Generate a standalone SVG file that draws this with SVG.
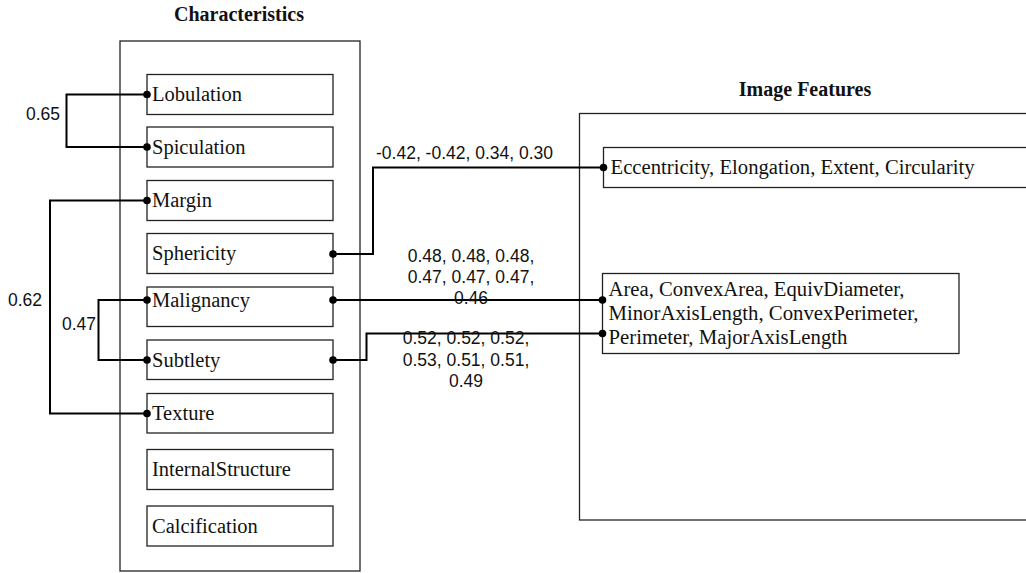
<svg xmlns="http://www.w3.org/2000/svg" width="1026" height="573" viewBox="0 0 1026 573">
<style>
.title{font-family:"Liberation Serif","Times New Roman",serif;font-weight:bold;font-size:20px;fill:#111}
.box{fill:#fff;stroke:#222;stroke-width:1.3}
.outer{fill:none;stroke:#222;stroke-width:1.3}
.lbl{font-family:"Liberation Serif","Times New Roman",serif;font-size:20.5px;fill:#111}
.num{font-family:"Liberation Sans",Arial,sans-serif;font-size:17.5px;fill:#111}
.num-m{font-family:"Liberation Sans",Arial,sans-serif;font-size:17.5px;fill:#111;text-anchor:middle}
.conn{fill:none;stroke:#000;stroke-width:2}
.dot{fill:#000}
</style>
<rect width="1026" height="573" fill="#fff"/>
<g id="characteristics">
<text class="title" x="239" y="21" text-anchor="middle">Characteristics</text>
<rect class="outer" x="120" y="41" width="240" height="530"/>
</g>
<g id="image-features">
<text class="title" x="805" y="96" text-anchor="middle">Image Features</text>
<rect class="outer" x="579.5" y="113.5" width="460" height="406.5"/>
</g>
<g id="lobulation"><rect class="box" x="147" y="74.5" width="186" height="40"/><text class="lbl" x="152" y="101">Lobulation</text></g>
<g id="spiculation"><rect class="box" x="147" y="127" width="186" height="40"/><text class="lbl" x="152" y="153.5">Spiculation</text></g>
<g id="margin"><rect class="box" x="147" y="180.5" width="186" height="40"/><text class="lbl" x="152" y="207">Margin</text></g>
<g id="sphericity"><rect class="box" x="147" y="233.5" width="186" height="40"/><text class="lbl" x="152" y="260">Sphericity</text></g>
<g id="malignancy"><rect class="box" x="147" y="287" width="186" height="39.5"/><text class="lbl" x="152" y="306.5">Malignancy</text></g>
<g id="subtlety"><rect class="box" x="147" y="340" width="186" height="39.5"/><text class="lbl" x="152" y="366.5">Subtlety</text></g>
<g id="texture"><rect class="box" x="147" y="393.5" width="186" height="39.5"/><text class="lbl" x="152" y="420">Texture</text></g>
<g id="internalstructure"><rect class="box" x="147" y="449.5" width="186" height="40"/><text class="lbl" x="152" y="476">InternalStructure</text></g>
<g id="calcification"><rect class="box" x="147" y="506" width="186" height="40"/><text class="lbl" x="152" y="532.5">Calcification</text></g>
<g id="shape-features"><rect class="box" x="603.5" y="147.5" width="425" height="40"/><text class="lbl" x="610.5" y="174" textLength="364" lengthAdjust="spacingAndGlyphs">Eccentricity, Elongation, Extent, Circularity</text></g>
<g id="size-features"><rect class="box" x="602.5" y="273.5" width="356.5" height="80"/>
<text class="lbl" x="608.5" y="296" textLength="296" lengthAdjust="spacingAndGlyphs">Area, ConvexArea, EquivDiameter,</text>
<text class="lbl" x="608.5" y="320" textLength="310" lengthAdjust="spacingAndGlyphs">MinorAxisLength, ConvexPerimeter,</text>
<text class="lbl" x="608.5" y="344" textLength="239" lengthAdjust="spacingAndGlyphs">Perimeter, MajorAxisLength</text>
</g>
<g id="connectors">
<polyline class="conn" points="147,94.5 66.5,94.5 66.5,147 147,147"/>
<circle class="dot" cx="147" cy="94.5" r="3.8"/><circle class="dot" cx="147" cy="147" r="3.8"/>
<text class="num" x="26" y="119.5">0.65</text>
<polyline class="conn" points="147,200.5 50,200.5 50,413.5 147,413.5"/>
<circle class="dot" cx="147" cy="200.5" r="3.8"/><circle class="dot" cx="147" cy="413.5" r="3.8"/>
<text class="num" x="8" y="306">0.62</text>
<polyline class="conn" points="147,300 98.5,300 98.5,360 147,360"/>
<circle class="dot" cx="147" cy="300" r="3.8"/><circle class="dot" cx="147" cy="360" r="3.8"/>
<text class="num" x="62" y="329.5">0.47</text>
<polyline class="conn" points="333,254 373,254 373,167.5 603.5,167.5"/>
<circle class="dot" cx="333" cy="254" r="3.8"/><circle class="dot" cx="603.5" cy="167.5" r="3.8"/>
<text class="num" x="376" y="158.5">-0.42, -0.42, 0.34, 0.30</text>
<polyline class="conn" points="333,300 602.5,300"/>
<circle class="dot" cx="333" cy="300" r="3.8"/><circle class="dot" cx="602.5" cy="300" r="3.8"/>
<text class="num-m" x="471" y="262">0.48, 0.48, 0.48,</text>
<text class="num-m" x="471" y="283">0.47, 0.47, 0.47,</text>
<text class="num-m" x="471" y="304">0.46</text>
<polyline class="conn" points="333,360 366.5,360 366.5,333.5 602.5,333.5"/>
<circle class="dot" cx="333" cy="360" r="3.8"/><circle class="dot" cx="602.5" cy="333.5" r="3.8"/>
<text class="num-m" x="466" y="344">0.52, 0.52, 0.52,</text>
<text class="num-m" x="466" y="365.5">0.53, 0.51, 0.51,</text>
<text class="num-m" x="466" y="386.5">0.49</text>
</g>
</svg>
